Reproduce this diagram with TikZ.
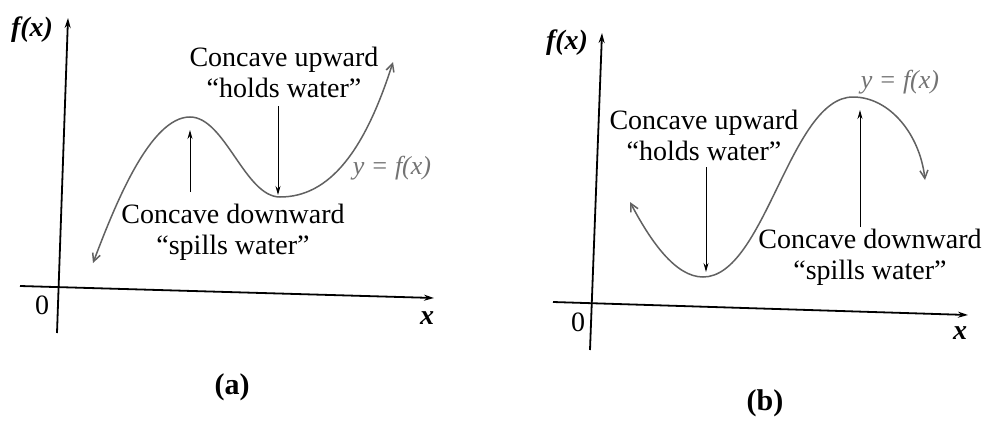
\documentclass[tikz,border=0pt]{standalone}
\usepackage{fontspec}
\setmainfont{Liberation Serif}
\usetikzlibrary{arrows.meta}
\begin{document}
\begin{tikzpicture}[x=1pt,y=-1pt,
 lbl/.style={font=\fontsize{28}{31}\selectfont, inner sep=0pt, align=center},
 axlbl/.style={font=\fontsize{28}{30}\selectfont\bfseries\itshape, inner sep=0pt},
 axis/.style={line width=1.8pt, -{Stealth[length=10pt,width=6pt]}},
 curve/.style={line width=1.5pt, draw=black!62, {Straight Barb[length=8pt,width=8pt]}-{Straight Barb[length=8pt,width=8pt]}},
 pointer/.style={line width=1pt, -{Stealth[length=9pt,width=5pt]}},
 gl/.style={font=\fontsize{26}{28}\selectfont\itshape, text=black!55, inner sep=0pt}]
\useasboundingbox[fill=white] (0,0) rectangle (991,423);

% ---------- panel (a) ----------
\coordinate (ayb) at (57,333);
\coordinate (ayt) at (68,18);
\coordinate (axl) at (20,286);
\coordinate (axr) at (434,298);
\draw[axis] (ayb) -- (ayt);
\draw[axis] (axl) -- (axr);
\node[axlbl] (afx) at (32,30) {\textit{f}(\textit{x})};
\node[font=\fontsize{28}{30}\selectfont, inner sep=0pt] (a0) at (42,305) {0};
\node[axlbl] (ax) at (427,318) {\textit{x}};
\node[font=\fontsize{30}{32}\selectfont\bfseries, inner sep=0pt] (acap) at (232,387) {(a)};

\coordinate (as) at (93,263);
\coordinate (amax) at (190,117);
\coordinate (amin) at (280,197);
\coordinate (ae) at (393,62);
\draw[curve] (as) .. controls (115,205) and (150,117) .. (amax)
  .. controls (225,117) and (245,197) .. (amin)
  .. controls (330,197) and (365,150) .. (ae);

\node[lbl] (aup) at (284,72) {Concave upward\\“holds water”};
\node[lbl] (adown) at (233,232) {Concave downward\\“spills water”};
\node[gl] (ayf) at (392,168) {y = f(x)};
\coordinate (aupS) at (278,106);
\coordinate (aupE) at (278,195);
\coordinate (adnS) at (190,192);
\coordinate (adnE) at (190,130);
\draw[pointer] (aupS) -- (aupE);
\draw[pointer] (adnS) -- (adnE);

% ---------- panel (b) ----------
\coordinate (byb) at (590,350);
\coordinate (byt) at (602,33);
\coordinate (bxl) at (553,302);
\coordinate (bxr) at (968,315);
\draw[axis] (byb) -- (byt);
\draw[axis] (bxl) -- (bxr);
\node[axlbl] (bfx) at (567,43) {\textit{f}(\textit{x})};
\node[font=\fontsize{28}{30}\selectfont, inner sep=0pt] (b0) at (578,322) {0};
\node[axlbl] (bx) at (960,333) {\textit{x}};
\node[font=\fontsize{30}{32}\selectfont\bfseries, inner sep=0pt] (bcap) at (765,403) {(b)};

\coordinate (bs) at (630,202);
\coordinate (bmin) at (703,277);
\coordinate (bmax) at (853,97);
\coordinate (be) at (925,180);
\draw[curve] (bs) .. controls (650,240) and (675,277) .. (bmin)
  .. controls (765,277) and (790,97) .. (bmax)
  .. controls (890,97) and (920,135) .. (be);

\node[lbl] (bup) at (704,135) {Concave upward\\“holds water”};
\node[lbl] (bdown) at (870,257) {Concave downward\\“spills water”};
\node[gl] (byf) at (900,82) {y = f(x)};
\coordinate (bupS) at (706,167);
\coordinate (bupE) at (706,272);
\coordinate (bdnS) at (860,227);
\coordinate (bdnE) at (860,110);
\draw[pointer] (bupS) -- (bupE);
\draw[pointer] (bdnS) -- (bdnE);
\end{tikzpicture}
\end{document}
